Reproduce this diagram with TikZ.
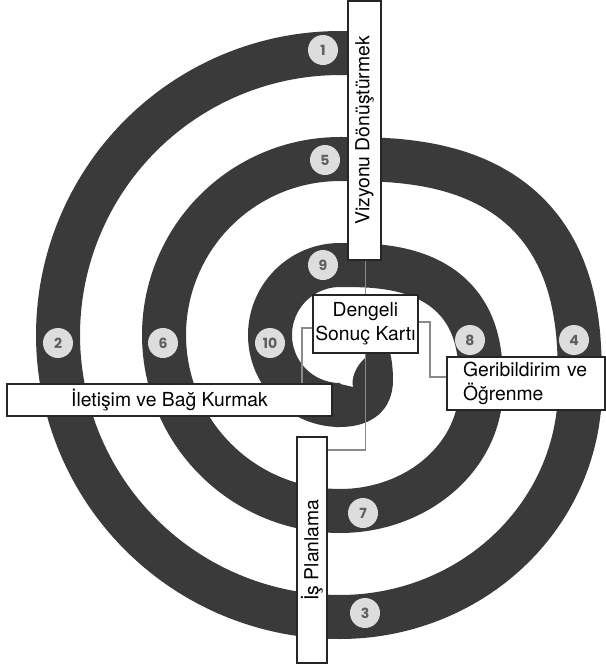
\documentclass[tikz,border=0pt]{standalone}
\usepackage{fontspec}
\setmainfont{TeX Gyre Heros}
\newfontfamily\numfont{Poppins}
\definecolor{bandc}{HTML}{3A3A3A}
\definecolor{dotc}{HTML}{DDDDDD}
\definecolor{numc}{HTML}{5E5E5E}
\definecolor{connc}{HTML}{8A8A8A}
\begin{document}
\begin{tikzpicture}[x=0.75pt,y=-0.75pt,
  band/.style={draw=bandc, line width=33pt, line join=round},
  numdot/.style={circle, fill=dotc, minimum size=22.5pt, inner sep=0pt, font=\numfont\fontsize{10.5}{12}\selectfont\bfseries, text=numc},
  box/.style={draw=black!85, fill=white, line width=0.9pt, inner sep=0pt, font=\fontsize{14.5}{18}\selectfont},
  conn/.style={draw=connc, line width=0.8pt}]
\useasboundingbox (0,0) rectangle (606,668);
% spiral band
\draw[band] plot[domain=275:90,samples=120] ({340+282*cos(\x)},{335+282*sin(\x)})
 -- plot[domain=90:0,samples=60] ({340+240*cos(\x)},{388+229*sin(\x)})
 -- plot[domain=0:-90,samples=80] ({340+240*pow(abs(cos(\x)),0.75)},{388-229*pow(abs(sin(\x)),0.75)})
 -- plot[domain=270:90,samples=100] ({340+176*cos(\x)},{335+176*sin(\x)})
 -- plot[domain=90:0,samples=50] ({340+141*cos(\x)},{388+123*sin(\x)})
 -- plot[domain=0:-90,samples=70] ({340+141*pow(abs(cos(\x)),0.75)},{388-123*pow(abs(sin(\x)),0.75)})
 -- plot[domain=270:90,samples=80] ({340+70*cos(\x)},{335+70*sin(\x)});
\fill[bandc] (336,427) -- (340,427) .. controls (372,427) and (393,410) .. (393,380)
  .. controls (393,365) and (391,355) .. (388,345) -- (366,345) -- (365,358)
  .. controls (356,366) and (351,378) .. (353,387) -- (336,383) -- cycle;
% numbers
\node[numdot] (n1) at (323,50) {1};
\node[numdot] (n2) at (58,343) {2};
\node[numdot] (n3) at (365,613) {3};
\node[numdot] (n4) at (574,340) {4};
\node[numdot] (n5) at (325,160) {5};
\node[numdot] (n6) at (163,343) {6};
\node[numdot] (n7) at (363,513) {7};
\node[numdot] (n8) at (470,340) {8};
\node[numdot] (n9) at (323,265) {9};
\node[numdot] (n10) at (270,343) {10};
% boxes
\node[box, rotate=90, minimum width=194.25pt, minimum height=24.75pt] (viz) at (364.5,130.5) {Vizyonu Dönüştürmek};
\node[box, minimum width=243.75pt, minimum height=24pt] (ilet) at (169.5,400) {İletişim ve Bağ Kurmak};
\node[box, minimum width=78.75pt, minimum height=43.5pt, align=center] (deng) at (365.5,324) {Dengeli\\Sonuç Kartı};
\node[box, minimum width=118.5pt, minimum height=39.75pt, text width=94.5pt, align=left] (geri) at (526,383.5) {Geribildirim ve\\Öğrenme};
\node[box, rotate=90, minimum width=169.5pt, minimum height=22.5pt] (isp) at (312,550) {İş Planlama};
% connectors
\coordinate (bL) at (302,328);
\coordinate (bR) at (430,322);
\coordinate (bR2) at (430,377);
\coordinate (bB) at (365.5,450);
\draw[conn] (deng.north) -- (deng.north |- viz.west);
\draw[conn] (deng.west |- bL) -- (bL) -- (bL |- ilet.north);
\draw[conn] (deng.east |- bR) -- (bR) -- (bR2) -- (bR2 -| geri.west);
\draw[conn] (deng.south) -- (bB) -- (bB -| isp.south);
\end{tikzpicture}
\end{document}
